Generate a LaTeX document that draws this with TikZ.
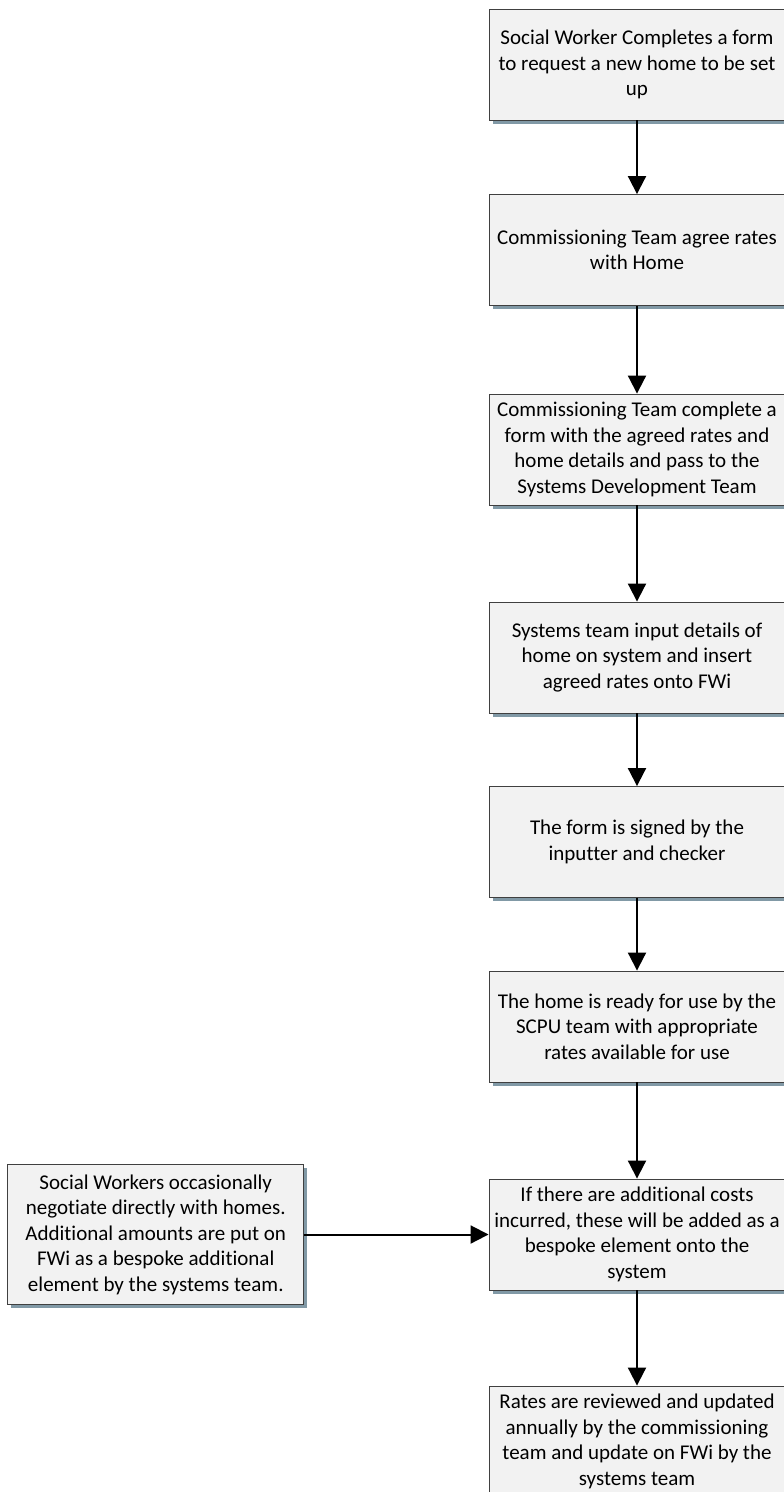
\documentclass[tikz,border=0pt]{standalone}
\usepackage{fontspec}
\setmainfont[Ligatures=NoCommon]{Carlito}
\usetikzlibrary{arrows.meta,shadows}
\definecolor{boxfill}{HTML}{F2F2F2}
\definecolor{boxline}{HTML}{404040}
\definecolor{shadowc}{HTML}{8199A6}
\begin{document}
\begin{tikzpicture}[x=1pt,y=1pt,
  stepbox/.style={draw=boxline, line width=0.9pt, fill=boxfill,
    minimum width=296pt, minimum height=111pt, inner sep=2pt,
    align=center, font=\fontsize{21}{25.5}\selectfont,
    drop shadow={shadow xshift=3.5pt, shadow yshift=-3.5pt, fill=shadowc, opacity=1}},
  arr/.style={line width=2pt, -{Triangle[length=18pt,width=18pt]}}]
\useasboundingbox (0,0) rectangle (784,-1492);
\node[stepbox] (b1) at (637,-64.5) {Social Worker Completes a form\\to request a new home to be set\\up};
\node[stepbox] (b2) at (637,-250) {Commissioning Team agree rates\\with Home};
\node[stepbox] (b3) at (637,-449.5) {Commissioning Team complete a\\form with the agreed rates and\\home details and pass to the\\Systems Development Team};
\node[stepbox] (b4) at (637,-657.5) {Systems team input details of\\home on system and insert\\agreed rates onto FWi};
\node[stepbox] (b5) at (637,-842) {The form is signed by the\\inputter and checker};
\node[stepbox] (b6) at (637,-1026.5) {The home is ready for use by the\\SCPU team with appropriate\\rates available for use};
\node[stepbox] (b7) at (637,-1234.5) {If there are additional costs\\incurred, these will be added as a\\bespoke element onto the\\system};
\node[stepbox, minimum height=140pt] (side) at (155.75,-1234.5) {Social Workers occasionally\\negotiate directly with homes.\\Additional amounts are put on\\FWi as a bespoke additional\\element by the systems team.};
\node[stepbox] (b8) at (637,-1441.5) {Rates are reviewed and updated\\annually by the commissioning\\team and update on FWi by the\\systems team};
\draw[arr] (b1) -- (b2);
\draw[arr] (b2) -- (b3);
\draw[arr] (b3) -- (b4);
\draw[arr] (b4) -- (b5);
\draw[arr] (b5) -- (b6);
\draw[arr] (b6) -- (b7);
\draw[arr] (b7) -- (b8);
\draw[arr] (side) -- (b7);
\end{tikzpicture}
\end{document}
